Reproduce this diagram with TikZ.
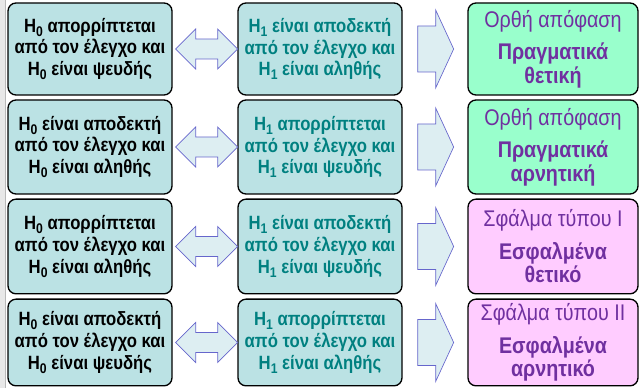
\documentclass[tikz,border=0pt]{standalone}
\usepackage{fontspec}
\setmainfont{Liberation Sans}[FakeStretch=0.87]
\usetikzlibrary{calc}
\definecolor{azzurro}{RGB}{187,226,228}
\definecolor{menta}{RGB}{153,255,204}
\definecolor{rosa}{RGB}{255,204,255}
\definecolor{verdeacqua}{RGB}{0,128,128}
\definecolor{viola}{RGB}{112,48,160}
\definecolor{frecciafill}{RGB}{221,238,242}
\definecolor{frecciabordo}{RGB}{102,102,204}
\tikzset{
  casella/.style={draw=black,line width=1pt,rounded corners=6pt,align=center,inner sep=0pt},
  ipotesi/.style={casella,fill=azzurro,minimum width=123pt,font=\fontsize{14.4}{16.2}\selectfont\bfseries},
  esito/.style={casella,minimum width=127.5pt,text=viola,font=\fontsize{17}{17.5}\selectfont},
  freccia/.style={draw=frecciabordo,fill=frecciafill,line width=0.5pt,line join=miter},
}
\newcommand{\pedice}[1]{\raisebox{-0.4ex}{\fontsize{10.5}{10}\selectfont#1}}
\newcommand{\Hz}{H\pedice{0}}
\newcommand{\Hu}{H\pedice{1}}
\begin{document}
\begin{tikzpicture}[x=0.75pt,y=-0.75pt]
  \useasboundingbox (0,0) rectangle (643,388);
  %striscia grigia a sinistra
  \fill[gray!18] (0,0) rectangle (5,388);
  \draw[gray!55] (5.5,0) -- (5.5,388);

  %riga 1
  \node[ipotesi,minimum height=69pt] (sx1) at (90,49) {\Hz{} απορρίπτεται\\από τον έλεγχο και\\\Hz{} είναι ψευδής};
  \node[ipotesi,minimum height=69pt,text=verdeacqua] (cx1) at (320,49) {\Hu{} είναι αποδεκτή\\από τον έλεγχο και\\\Hu{} είναι αληθής};
  \node[esito,fill=menta,minimum height=69pt] (dx1) at (553,49) {Ορθή απόφαση\\[7pt]{\bfseries Πραγματικά}\\{\bfseries θετική}};

  %riga 2
  \node[ipotesi,minimum height=70.5pt] (sx2) at (90,147) {\Hz{} είναι αποδεκτή\\από τον έλεγχο και\\\Hz{} είναι αληθής};
  \node[ipotesi,minimum height=70.5pt,text=verdeacqua] (cx2) at (320,147) {\Hu{} απορρίπτεται\\από τον έλεγχο και\\\Hu{} είναι ψευδής};
  \node[esito,fill=menta,minimum height=70.5pt] (dx2) at (553,147) {Ορθή απόφαση\\[7pt]{\bfseries Πραγματικά}\\{\bfseries αρνητική}};

  %riga 3
  \node[ipotesi,minimum height=71pt] (sx3) at (90,246.5) {\Hz{} απορρίπτεται\\από τον έλεγχο και\\\Hz{} είναι αληθής};
  \node[ipotesi,minimum height=71pt,text=verdeacqua] (cx3) at (320,246.5) {\Hu{} είναι αποδεκτή\\από τον έλεγχο και\\\Hu{} είναι ψευδής};
  \node[esito,fill=rosa,minimum height=71pt] (dx3) at (553,246.5) {Σφάλμα τύπου I\\[7pt]{\bfseries Εσφαλμένα}\\{\bfseries θετικό}};

  %riga 4
  \node[ipotesi,minimum height=65pt] (sx4) at (90,342.5) {\Hz{} είναι αποδεκτή\\από τον έλεγχο και\\\Hz{} είναι ψευδής};
  \node[ipotesi,minimum height=65pt,text=verdeacqua] (cx4) at (320,342.5) {\Hu{} απορρίπτεται\\από τον έλεγχο και\\\Hu{} είναι αληθής};
  \node[esito,fill=rosa,minimum height=65pt] (dx4) at (553,342.5) {Σφάλμα τύπου II\\[7pt]{\bfseries Εσφαλμένα}\\{\bfseries αρνητικό}};

  %frecce doppie e frecce singole
  \foreach \i in {1,...,4}{
    \draw[freccia] ($(sx\i.east)+(3,0)$) -- ++(20,-20) -- ++(0,10) -- ++(22,0) -- ++(0,-10)
                   -- ++(20,20) -- ++(-20,20) -- ++(0,-10) -- ++(-22,0) -- ++(0,10) -- cycle;
    \draw[freccia] ($(cx\i.east)+(15,-23)$) -- ++(18,0) -- ++(0,-16) -- ++(18,39)
                   -- ++(-18,39) -- ++(0,-16) -- ++(-18,0) -- cycle;
  }
\end{tikzpicture}
\end{document}
